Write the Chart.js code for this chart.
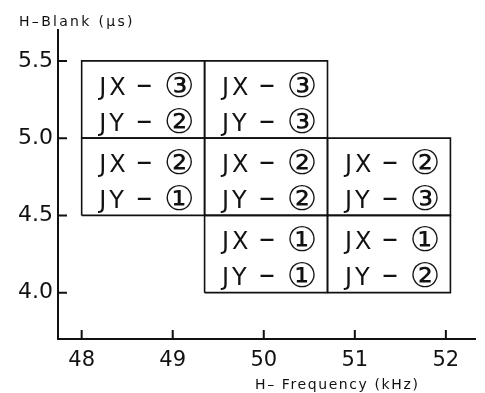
<!DOCTYPE html>
<html>
<head>
<meta charset="utf-8">
<script src="https://cdn.jsdelivr.net/npm/chart.js@4.4.1/dist/chart.umd.min.js"></script>
<style>
  html, body { margin: 0; padding: 0; background: #fff; }
  #wrap { width: 485px; height: 393px; position: relative; }
</style>
</head>
<body>
<div id="wrap"><canvas id="c"></canvas></div>
<script>
// Tick values shown on each axis
const freqTicks = [48, 49, 50, 51, 52];
const blankTicks = [4.0, 4.5, 5.0, 5.5];

// Operating regions: frequency range (kHz), blanking range (us), JX / JY modes
const cellFreqFrom  = [48.0, 49.35, 48.0, 49.35, 50.7, 49.35, 50.7];
const cellFreqTo    = [49.35, 50.7, 49.35, 50.7, 52.05, 50.7, 52.05];
const cellBlankFrom = [5.0, 5.0, 4.5, 4.5, 4.5, 4.0, 4.0];
const cellBlankTo   = [5.5, 5.5, 5.0, 5.0, 5.0, 4.5, 4.5];
const jxMode = [3, 3, 2, 2, 2, 1, 1];
const jyMode = [2, 3, 1, 2, 3, 1, 2];

const circled = ['', '\u2460', '\u2461', '\u2462'];
const ink = '#111';
const fontFamily = '"DejaVu Sans", "Liberation Sans", sans-serif';

// each region becomes a closed outline through the scales
const datasets = cellFreqFrom.map((x0, i) => {
    const x1 = cellFreqTo[i], y0 = cellBlankFrom[i], y1 = cellBlankTo[i];
    return {
        data: [
            { x: x0, y: y0 }, { x: x1, y: y0 }, { x: x1, y: y1 },
            { x: x0, y: y1 }, { x: x0, y: y0 }
        ],
        showLine: true,
        borderColor: ink,
        borderWidth: 1.6,
        pointRadius: 0,
        tension: 0
    };
});

// cell captions, inward ticks and axis titles
const decorations = {
    id: 'decorations',
    afterDatasetsDraw(chart) {
        const { ctx, scales: { x, y }, chartArea } = chart;
        ctx.save();
        ctx.fillStyle = ink;
        ctx.strokeStyle = ink;
        ctx.textBaseline = 'alphabetic';
        ctx.textAlign = 'left';

        // captions: "JX– n" / "JY– n" with a large circled mode number
        cellFreqFrom.forEach((x0, i) => {
            const cx = (x.getPixelForValue(x0) + x.getPixelForValue(cellFreqTo[i])) / 2;
            const top = y.getPixelForValue(cellBlankTo[i]);
            const bot = y.getPixelForValue(cellBlankFrom[i]);
            const cy = (top + bot) / 2;
            const rows = [['JX', jxMode[i], cy - 5], ['JY', jyMode[i], cy + 31]];
            rows.forEach(([label, mode, base]) => {
                ctx.font = '24px ' + fontFamily;
                ctx.letterSpacing = '3px';
                ctx.fillText(label, cx - 44, base);
                ctx.letterSpacing = '0px';
                ctx.font = '32px ' + fontFamily;
                ctx.fillText('\u2013', cx - 7, base);
                ctx.font = '34px ' + fontFamily;
                ctx.textAlign = 'center';
                ctx.fillText(circled[mode], cx + 36, base + 2);
                ctx.textAlign = 'left';
            });
        });

        // inward ticks
        ctx.lineWidth = 2;
        ctx.beginPath();
        freqTicks.forEach(v => {
            const px = x.getPixelForValue(v);
            ctx.moveTo(px, chartArea.bottom);
            ctx.lineTo(px, chartArea.bottom - 9);
        });
        blankTicks.forEach(v => {
            const py = y.getPixelForValue(v);
            ctx.moveTo(chartArea.left, py);
            ctx.lineTo(chartArea.left + 9, py);
        });
        ctx.stroke();

        // axis titles
        ctx.font = '14px ' + fontFamily;
        ctx.letterSpacing = '2.3px';
        ctx.fillText('H\u2013Blank (\u03bcs)', 19, 26);
        ctx.letterSpacing = '1.6px';
        ctx.fillText('H\u2013 Frequency (kHz)', 255, 389);
        ctx.restore();
    }
};

new Chart(document.getElementById('c'), {
    type: 'scatter',
    data: { datasets },
    options: {
        responsive: true,
        maintainAspectRatio: false,
        animation: false,
        layout: { padding: { top: 30, right: 10, left: 0, bottom: 0 } },
        plugins: { legend: { display: false }, tooltip: { enabled: false } },
        scales: {
            x: {
                type: 'linear',
                min: 47.74,
                max: 52.32,
                afterBuildTicks: s => { s.ticks = freqTicks.map(v => ({ value: v })); },
                afterFit: s => { s.height = 54; },
                grid: { display: false, drawTicks: false },
                border: { display: true, color: ink, width: 2 },
                ticks: {
                    color: ink,
                    padding: 9,
                    font: { family: fontFamily, size: 21 },
                    callback: v => String(v)
                }
            },
            y: {
                type: 'linear',
                min: 3.7,
                max: 5.7,
                afterBuildTicks: s => { s.ticks = blankTicks.map(v => ({ value: v })); },
                afterFit: s => { s.width = 58; },
                grid: { display: false, drawTicks: false },
                border: { display: true, color: ink, width: 2 },
                ticks: {
                    color: ink,
                    padding: 5,
                    font: { family: fontFamily, size: 22 },
                    callback: v => v.toFixed(1)
                }
            }
        }
    },
    plugins: [decorations]
});
</script>
</body>
</html>
